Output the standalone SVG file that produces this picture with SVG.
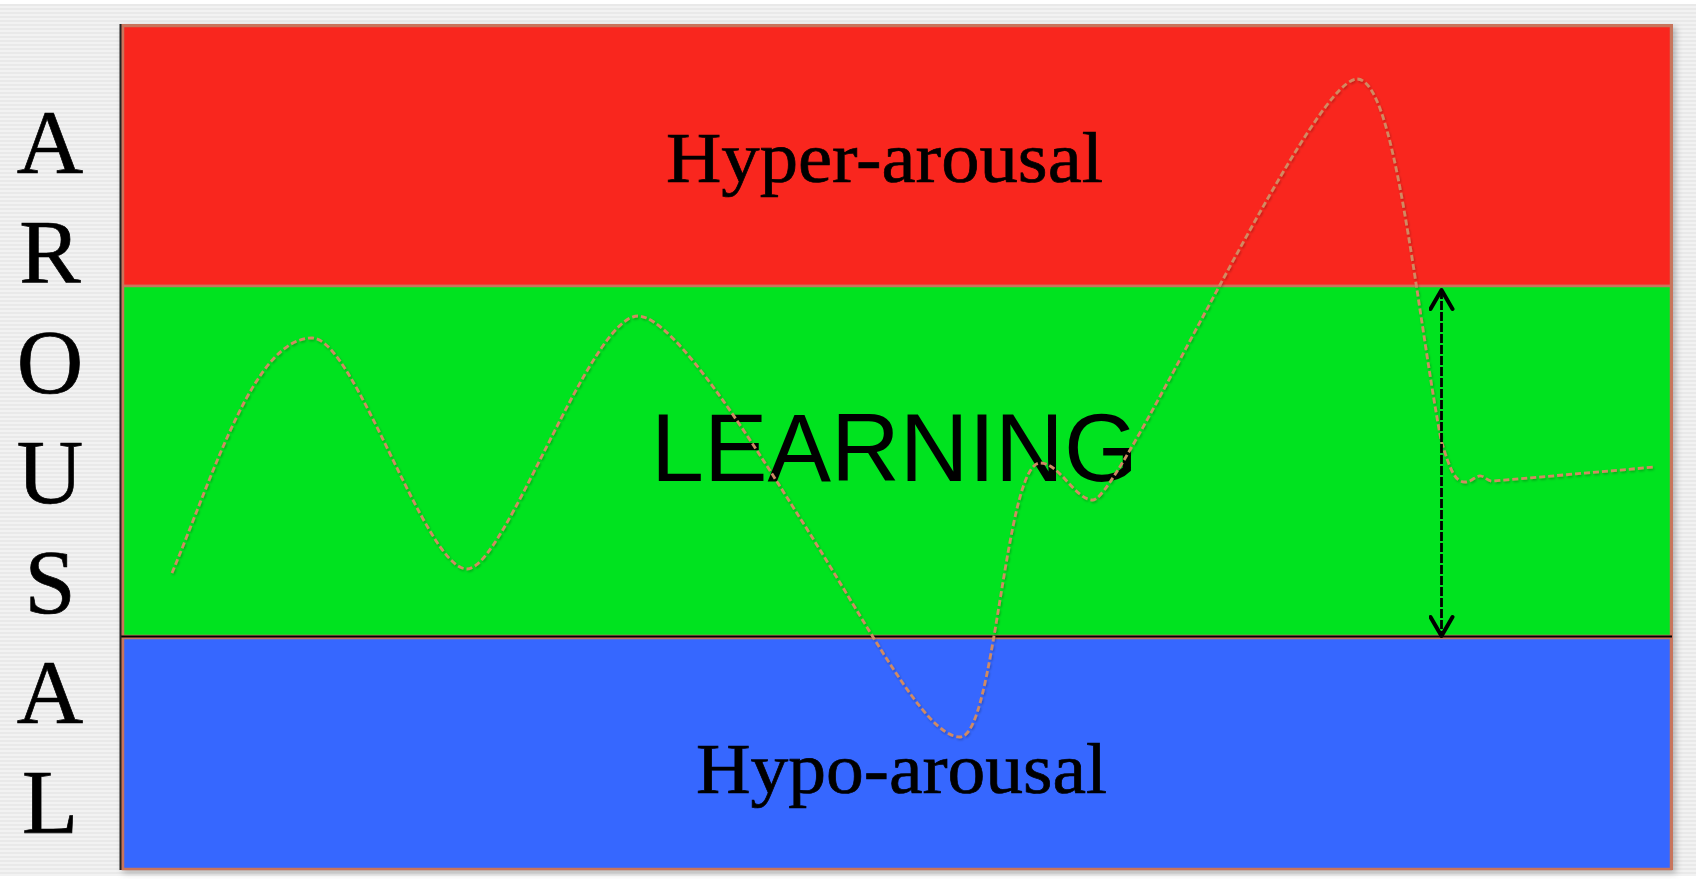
<svg xmlns="http://www.w3.org/2000/svg" width="1696" height="879" viewBox="0 0 1696 879">
<defs>
<pattern id="stripes" x="0" y="0" width="8" height="4" patternUnits="userSpaceOnUse">
<rect x="0" y="0" width="8" height="4" fill="#f2f2f2"/>
<rect x="0" y="0" width="8" height="2" fill="#e9e9e9"/>
</pattern>
<marker id="vhead" viewBox="0 0 26 26" refX="22" refY="13" markerWidth="26" markerHeight="26" markerUnits="userSpaceOnUse" orient="auto-start-reverse">
<path d="M3,2 L22,13 L3,24" fill="none" stroke="#000" stroke-width="4" stroke-linecap="round" stroke-linejoin="round"/>
</marker>
<filter id="shadow" x="-5%" y="-5%" width="110%" height="110%">
<feDropShadow dx="3" dy="3" stdDeviation="3" flood-color="#000" flood-opacity="0.25"/>
</filter>
<filter id="cshadow" x="-5%" y="-5%" width="110%" height="110%">
<feDropShadow dx="1" dy="1.5" stdDeviation="1.2" flood-color="#000" flood-opacity="0.25"/>
</filter>
</defs>
<style>
.band{stroke:#c8755c;stroke-width:2.5}
.serif{font-family:"Liberation Serif","Times New Roman",serif;fill:#000;stroke:#000;stroke-width:0.7}
.sans{font-family:"Liberation Sans",Arial,sans-serif;fill:#000}
.curve{fill:none;stroke:#d08a62;stroke-width:2.8;stroke-dasharray:6 3}
.arrow{fill:none;stroke:#000;stroke-width:2.8;stroke-dasharray:9 2}
</style>
<rect x="0" y="0" width="1696" height="879" fill="#ffffff"/>
<rect x="0" y="4" width="1696" height="872" fill="url(#stripes)"/>

<g id="axis-label">
<text class="serif" font-size="92" text-anchor="middle" x="50" y="173">A</text>
<text class="serif" font-size="92" text-anchor="middle" x="50" y="283">R</text>
<text class="serif" font-size="92" text-anchor="middle" x="50" y="393">O</text>
<text class="serif" font-size="92" text-anchor="middle" x="50" y="503">U</text>
<text class="serif" font-size="92" text-anchor="middle" x="50" y="613">S</text>
<text class="serif" font-size="92" text-anchor="middle" x="50" y="723">A</text>
<text class="serif" font-size="92" text-anchor="middle" x="50" y="833">L</text>
</g>

<g filter="url(#shadow)">
<rect x="120" y="24" width="1553" height="846" fill="#c8755c"/>
</g>

<g id="hyper">
<rect class="band" x="123" y="26" width="1548" height="260" fill="#f9261e"/>
<text class="serif" font-size="72" x="666" y="182" textLength="437" lengthAdjust="spacingAndGlyphs">Hyper-arousal</text>
</g>
<g id="learning">
<rect class="band" x="123" y="286" width="1548" height="350" fill="#00e31f"/>
<text class="sans" font-size="96" x="651" y="481" textLength="487" lengthAdjust="spacingAndGlyphs">LEARNING</text>
</g>
<g id="hypo">
<rect class="band" x="123" y="638" width="1548" height="231" fill="#3667ff"/>
<text class="serif" font-size="72" x="696" y="793" textLength="411" lengthAdjust="spacingAndGlyphs">Hypo-arousal</text>
</g>
<line x1="120" y1="636.5" x2="1672" y2="636.5" stroke="#000" stroke-width="2"/>
<line x1="120.5" y1="24" x2="120.5" y2="870" stroke="#222" stroke-width="2"/>

<g id="connectors">
<path class="curve" filter="url(#cshadow)" d="M172,573 C215,470 255,338 312,338 C355,338 425,569 467,569 C505,569 590,316 638,316 C675,316 760,455 800,518 C870,628 925,737 960,737 C995,737 1005,463 1040,463 C1060,463 1075,500 1093,500 C1120,500 1310,79 1357,79 C1395,79 1415,300 1441,440 C1450,470 1455,482 1465,482 C1472,482 1476,475 1481,476 C1486,477 1488,482 1494,481 L1655,467"/>
<line class="arrow" x1="1441.5" y1="290" x2="1441.5" y2="636" marker-start="url(#vhead)" marker-end="url(#vhead)"/>
</g>
</svg>
